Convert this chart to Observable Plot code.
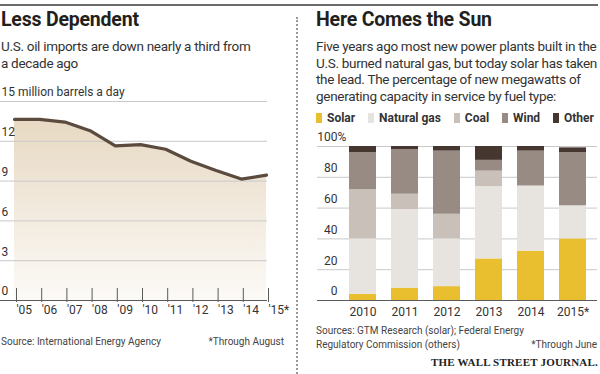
<!DOCTYPE html>
<html><head><meta charset="utf-8">
<script src="https://cdn.jsdelivr.net/npm/d3@7"></script>
<script src="https://cdn.jsdelivr.net/npm/@observablehq/plot@0.6"></script>
<style>
html,body{margin:0;padding:0;background:#fff}
body{width:600px;height:374px;position:relative;overflow:hidden;font-family:Roboto,"Noto Sans",sans-serif;color:#333}
.abs{position:absolute;white-space:nowrap}
.title{font-weight:700;font-size:19.5px;color:#231f1c;letter-spacing:-0.2px}
.sub{font-size:13.5px;line-height:16.5px;color:#333;letter-spacing:-0.3px}
.src{font-size:10px;color:#444;line-height:14px}
.legend{display:flex;justify-content:space-between;align-items:center;font-weight:700;font-size:12px;color:#333}
.legend span.sw{display:inline-block;width:6px;height:10px;margin-right:5px;vertical-align:-1px}
svg{position:absolute;overflow:visible}
</style></head><body>
<script>
// ---- Data: left chart ----
const years = [2005,2006,2007,2008,2009,2010,2011,2012,2013,2014,2015];
const imports = [13.65,13.65,13.45,12.8,11.65,11.75,11.4,10.5,9.8,9.15,9.45];
const leftTicks = [0,3,6,9,12,15];
const leftTickLabels = ["0","3","6","9","12","15 million barrels a day"];
const yearLabels = ["'05","'06","'07","'08","'09","'10","'11","'12","'13","'14","'15*"];

// ---- Data: right chart ----
const barYears = ["2010","2011","2012","2013","2014","2015"];
const barYearLabels = ["2010","2011","2012","2013","2014","2015*"];
const fuels = ["Solar","Natural gas","Coal","Wind","Other"];
const fuelColors = ["#e9be2f","#e7e4df","#c9c1b9","#978b83","#45372f"];
const solar = [4,8,9,27,32,40];
const gas   = [36,51,31,47,42,21.5];
const coal  = [32,10,16,10,0.5,0];
const wind  = [24,29,41,7,22.5,34.6];
const other = [4,2,3,9,3,3];
const pctTicks = [0,20,40,60,80,100];

const root = document.body;
function add(html, cls, style){
  const d = document.createElement("div");
  d.className = "abs " + (cls||"");
  d.innerHTML = html;
  Object.assign(d.style, style||{});
  root.appendChild(d);
  return d;
}

// top rule + divider
add("", "", {left:"0px", top:"4px", width:"598px", height:"0", borderTop:"2px solid #6b6b6b"});
add("", "", {left:"296px", top:"17px", width:"0", height:"360px", borderLeft:"2px dotted #9a9a9a"});

// titles
add("Less Dependent", "title", {left:"1px", top:"8px"});
add("U.S. oil imports are down nearly a third from<br>a decade ago", "sub", {left:"1px", top:"38px"});
add("Here Comes the Sun", "title", {left:"316px", top:"8px"});
add("Five years ago most new power plants built in the<br>U.S. burned natural gas, but today solar has taken<br>the lead. The percentage of new megawatts of<br>generating capacity in service by fuel type:", "sub", {left:"316px", top:"38px"});

// legend
add(fuels.map((f,i)=>`<div><span class="sw" style="background:${fuelColors[i]}"></span>${f}</div>`).join(""), "legend", {left:"316px", top:"111px", width:"278px"});

const fontStyle = {fontFamily:"Roboto, 'Noto Sans', sans-serif", fontSize:"12px", color:"#333", background:"transparent", overflow:"visible"};

// ---- Left chart ----
const leftData = years.map((y,i)=>({year:y, value:imports[i]}));
const gradMark = () => {
  const defs = d3.create("svg:defs");
  const g = defs.append("linearGradient").attr("id","oilGrad").attr("x1",0).attr("x2",0).attr("y1",0).attr("y2",1);
  g.append("stop").attr("offset","0%").attr("stop-color","#e7d9c3");
  g.append("stop").attr("offset","100%").attr("stop-color","#fcfaf7");
  return defs.node();
};
const left = Plot.plot({
  width:300, height:240, marginTop:21, marginBottom:20, marginLeft:0, marginRight:33,
  style:fontStyle,
  x:{domain:[2005,2015], range:[14,266]},
  y:{domain:[0,15], axis:null},
  marks:[
    gradMark,
    Plot.areaY(leftData,{x:"year", y:"value", fill:"url(#oilGrad)"}),
    Plot.gridY(leftTicks.filter(d=>d>0),{stroke:"#c9c9c9", strokeOpacity:1}),
    Plot.ruleY([0],{stroke:"#5a5a5a", strokeWidth:1.2}),
    Plot.lineY(leftData,{x:"year", y:"value", stroke:"#5b4b3f", strokeWidth:3.2, strokeLinejoin:"round"}),
    Plot.text(leftTicks,{y:d=>d, text:(d,i)=>leftTickLabels[i], frameAnchor:"left", textAnchor:"start", dx:1, dy:-9, fill:"#333", fontSize:12}),
    Plot.axisX({ticks:years, tickSize:14, stroke:"#5a5a5a", tickFormat:(d)=>yearLabels[years.indexOf(d)], textAnchor:"start", dx:2, dy:-12, fontSize:12, fill:"#333", label:null})
  ]
});
left.style.left = "0px"; left.style.top = "80px";
root.appendChild(left);

// ---- Right chart ----
const series = [solar,gas,coal,wind,other];
const barData = barYears.flatMap((yr,i)=>fuels.map((f,j)=>({year:yr, fuel:f, value:series[j][i]})));
const right = Plot.plot({
  width:300, height:200, marginTop:16, marginBottom:30, marginLeft:17, marginRight:3,
  style:fontStyle,
  x:{domain:barYears, range:[40.3,294.7], paddingInner:0.36, paddingOuter:0.18},
  y:{domain:[0,100], axis:null},
  color:{domain:fuels, range:fuelColors},
  marks:[
    Plot.gridY(pctTicks.filter(d=>d>0),{stroke:"#c9c9c9", strokeOpacity:1}),
    Plot.barY(barData,{x:"year", y:"value", fill:"fuel"}),
    Plot.ruleY([0],{stroke:"#5a5a5a", strokeWidth:1.2}),
    Plot.text(pctTicks,{y:d=>d, text:d=>String(d), frameAnchor:"left", textAnchor:"end", dx:20, dy:-9, fill:"#333", fontSize:12}),
    Plot.text(pctTicks.filter(d=>d===100),{y:d=>d, text:()=>"%", frameAnchor:"left", textAnchor:"start", dx:20, dy:-9, fill:"#333", fontSize:12}),
    Plot.axisX({tickSize:0, tickPadding:7, tickFormat:d=>barYearLabels[barYears.indexOf(d)], fontSize:12, fill:"#333", label:null})
  ]
});
right.style.left = "300px"; right.style.top = "130px";
root.appendChild(right);

// sources
add("Source: International Energy Agency", "src", {left:"1px", top:"335px"});
add("*Through August", "src", {right:"316px", top:"335px"});
add("Sources: GTM Research (solar); Federal Energy<br>Regulatory Commission (others)", "src", {left:"316px", top:"324px"});
add("*Through June", "src", {right:"3px", top:"338px"});
add("THE WALL STREET JOURNAL.", "", {right:"2px", top:"356px", fontFamily:"'Liberation Serif','DejaVu Serif',serif", fontSize:"11px", fontWeight:"700", color:"#222", letterSpacing:"0.2px"});
</script>
</body></html>
